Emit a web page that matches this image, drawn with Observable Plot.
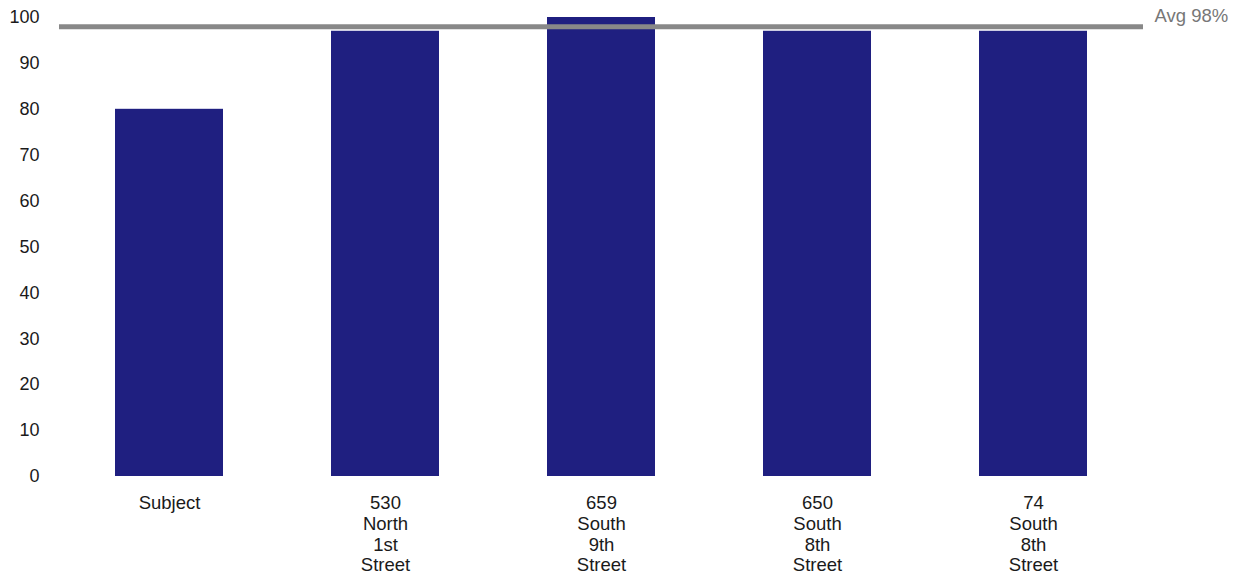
<!DOCTYPE html>
<html>
<head>
<meta charset="utf-8">
<script src="https://cdn.jsdelivr.net/npm/d3@7"></script>
<script src="https://cdn.jsdelivr.net/npm/@observablehq/plot@0.6"></script>
<style>
  html, body { margin: 0; padding: 0; background: #fff; }
  #chart { width: 1238px; height: 579px; }
</style>
</head>
<body>
<div id="chart"></div>
<script>
const categories = ["Subject", "530 North 1st Street", "659 South 9th Street", "650 South 8th Street", "74 South 8th Street"];
const values = [80, 97, 100, 97, 97];
const avgValue = 98;
const avgLabel = "Avg 98%";
const yTicks = [0, 10, 20, 30, 40, 50, 60, 70, 80, 90, 100];

const data = categories.map((c, i) => ({category: c, value: values[i]}));

const chart = Plot.plot({
  width: 1238,
  height: 579,
  marginLeft: 59,
  marginRight: 95,
  marginTop: 17,
  marginBottom: 103,
  style: {fontFamily: "'Liberation Sans', Arial, sans-serif", fontSize: "18px", color: "#1a1a1a", background: "#fff"},
  x: {domain: categories, paddingInner: 0.5, paddingOuter: 0.25, label: null},
  y: {domain: [0, 100], label: null},
  marks: [
    Plot.barY(data, {x: "category", y: "value", fill: "#1f1f80"}),
    Plot.ruleY([avgValue], {stroke: "#888888", strokeWidth: 5}),
    Plot.text([avgLabel], {y: [avgValue], text: d => d, frameAnchor: "right", textAnchor: "start", dx: 11, dy: -11, fill: "#777777", fontSize: 18.5}),
    Plot.axisY({ticks: yTicks, tickSize: 0, tickPadding: 20, label: null, fontSize: 18}),
    Plot.axisX({tickSize: 0, tickPadding: 18, label: null, fontSize: 18.5, lineHeight: 1.12,
      tickFormat: d => d.split(" ").join("\n")})
  ]
});
document.getElementById("chart").appendChild(chart);
</script>
</body>
</html>
